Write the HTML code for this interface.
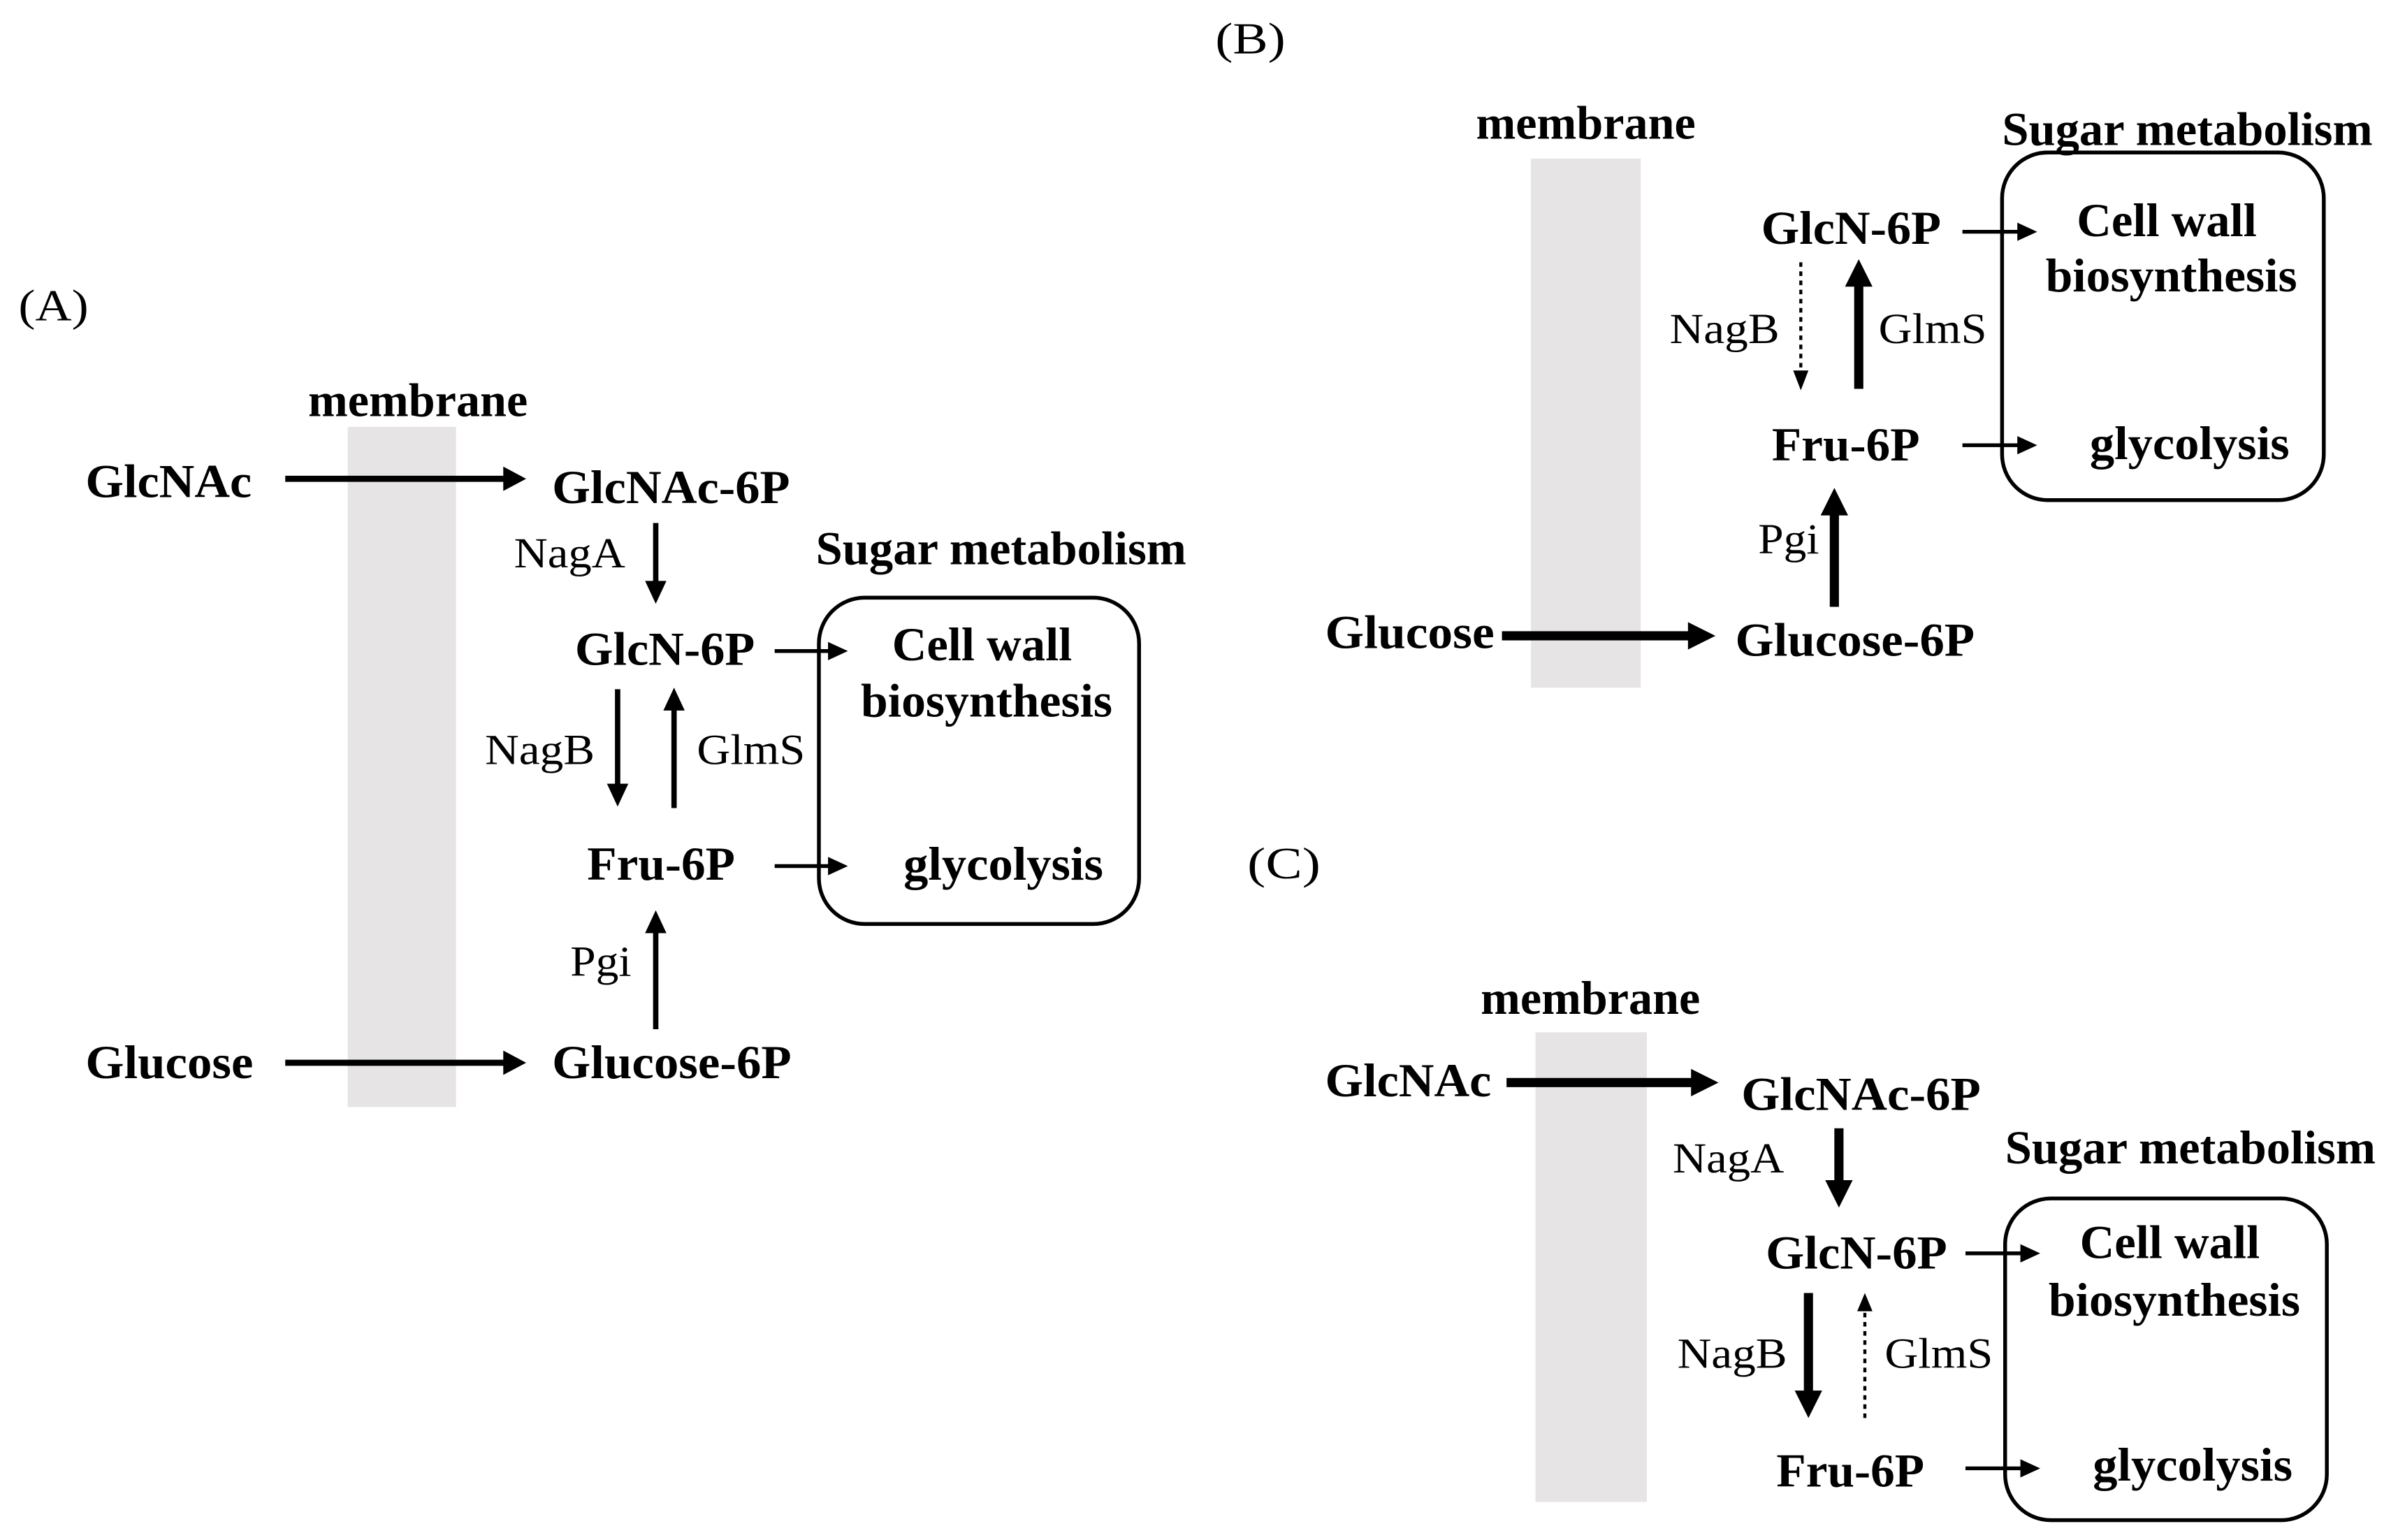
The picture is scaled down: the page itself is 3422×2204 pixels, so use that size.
<!DOCTYPE html>
<html><head><meta charset="utf-8"><style>html,body{margin:0;padding:0;background:#fff}svg{display:block}</style></head>
<body>
<svg width="3422" height="2204" viewBox="0 0 1568 1010" xmlns="http://www.w3.org/2000/svg" font-family="'Liberation Serif', serif">
<rect width="1568" height="1010" fill="#fff"/>
<rect x="228" y="280" width="71" height="446" fill="#e6e4e4"/>
<rect x="1004" y="104" width="72" height="347" fill="#e6e4e4"/>
<rect x="1007" y="677" width="73" height="308" fill="#e6e4e4"/>
<rect x="537" y="392" width="210" height="214" rx="30" fill="none" stroke="#000" stroke-width="2.5"/>
<rect x="1313" y="100" width="211" height="228" rx="30" fill="none" stroke="#000" stroke-width="2.5"/>
<rect x="1315" y="786" width="211" height="211" rx="30" fill="none" stroke="#000" stroke-width="2.5"/>

<g stroke="#000" fill="none">
<line x1="187" y1="314" x2="333" y2="314" stroke-width="4"/>
<line x1="187" y1="697" x2="333" y2="697" stroke-width="4"/>
<line x1="430" y1="343" x2="430" y2="383" stroke-width="3.5"/>
<line x1="405" y1="452" x2="405" y2="516" stroke-width="3.5"/>
<line x1="442" y1="530" x2="442" y2="464" stroke-width="3.5"/>
<line x1="430" y1="675" x2="430" y2="610" stroke-width="3.5"/>
<line x1="508" y1="427" x2="545" y2="427" stroke-width="2.5"/>
<line x1="508" y1="568" x2="545" y2="568" stroke-width="2.5"/>
<line x1="1287" y1="152" x2="1325" y2="152" stroke-width="2.5"/>
<line x1="1287" y1="292" x2="1325" y2="292" stroke-width="2.5"/>
<line x1="1181" y1="172" x2="1181" y2="243" stroke-width="2" stroke-dasharray="3,3"/>
<line x1="1219" y1="255" x2="1219" y2="186" stroke-width="6"/>
<line x1="1203" y1="398" x2="1203" y2="336" stroke-width="6"/>
<line x1="985" y1="417" x2="1109" y2="417" stroke-width="6"/>
<line x1="988" y1="710" x2="1111" y2="710" stroke-width="6"/>
<line x1="1206" y1="740" x2="1206" y2="776" stroke-width="6"/>
<line x1="1186" y1="848" x2="1186" y2="914" stroke-width="6"/>
<line x1="1223" y1="930" x2="1223" y2="860" stroke-width="2" stroke-dasharray="3,3"/>
<line x1="1289" y1="822" x2="1327" y2="822" stroke-width="2.5"/>
<line x1="1289" y1="963" x2="1327" y2="963" stroke-width="2.5"/>
</g>
<g fill="#000">
<polygon points="330,306 345,314 330,322"/>
<polygon points="330,689 345,697 330,705"/>
<polygon points="423,381 430,396 437,381"/>
<polygon points="398,514 405,529 412,514"/>
<polygon points="435,466 442,451 449,466"/>
<polygon points="423,612 430,597 437,612"/>
<polygon points="543,421 556,427 543,433"/>
<polygon points="543,562 556,568 543,574"/>
<polygon points="1323,146 1336,152 1323,158"/>
<polygon points="1323,286 1336,292 1323,298"/>
<polygon points="1176,243 1181,256 1186,243"/>
<polygon points="1210,188 1219,170 1228,188"/>
<polygon points="1194,338 1203,320 1212,338"/>
<polygon points="1107,408 1125,417 1107,426"/>
<polygon points="1109,701 1127,710 1109,719"/>
<polygon points="1197,774 1206,792 1215,774"/>
<polygon points="1177,912 1186,930 1195,912"/>
<polygon points="1218,860 1223,848 1228,860"/>
<polygon points="1325,816 1338,822 1325,828"/>
<polygon points="1325,957 1338,963 1325,969"/>
</g>

<g font-size="29" fill="#000">
<text x="12" y="210" textLength="46" lengthAdjust="spacingAndGlyphs">(A)</text>
<text x="797" y="35" textLength="46" lengthAdjust="spacingAndGlyphs">(B)</text>
<text x="818" y="576" textLength="48" lengthAdjust="spacingAndGlyphs">(C)</text>
</g>

<g font-size="31" font-weight="bold" fill="#000" text-anchor="middle">
<text x="274" y="273" textLength="144" lengthAdjust="spacingAndGlyphs">membrane</text>
<text x="110.5" y="326" textLength="109" lengthAdjust="spacingAndGlyphs">GlcNAc</text>
<text x="440" y="330" textLength="156" lengthAdjust="spacingAndGlyphs">GlcNAc-6P</text>
<text x="656.5" y="370" textLength="243" lengthAdjust="spacingAndGlyphs">Sugar metabolism</text>
<text x="436" y="436" textLength="118" lengthAdjust="spacingAndGlyphs">GlcN-6P</text>
<text x="644" y="433" textLength="118" lengthAdjust="spacingAndGlyphs">Cell wall</text>
<text x="647" y="470" textLength="165" lengthAdjust="spacingAndGlyphs">biosynthesis</text>
<text x="433.5" y="577" textLength="97" lengthAdjust="spacingAndGlyphs">Fru-6P</text>
<text x="658" y="577" textLength="131" lengthAdjust="spacingAndGlyphs">glycolysis</text>
<text x="111" y="707" textLength="110" lengthAdjust="spacingAndGlyphs">Glucose</text>
<text x="440.5" y="707" textLength="157" lengthAdjust="spacingAndGlyphs">Glucose-6P</text>
<text x="1040" y="91" textLength="144" lengthAdjust="spacingAndGlyphs">membrane</text>
<text x="1434.5" y="95" textLength="243" lengthAdjust="spacingAndGlyphs">Sugar metabolism</text>
<text x="1214" y="160" textLength="118" lengthAdjust="spacingAndGlyphs">GlcN-6P</text>
<text x="1421" y="155" textLength="118" lengthAdjust="spacingAndGlyphs">Cell wall</text>
<text x="1424" y="191" textLength="165" lengthAdjust="spacingAndGlyphs">biosynthesis</text>
<text x="1210.5" y="302" textLength="97" lengthAdjust="spacingAndGlyphs">Fru-6P</text>
<text x="1436" y="301" textLength="131" lengthAdjust="spacingAndGlyphs">glycolysis</text>
<text x="924.5" y="425" textLength="111" lengthAdjust="spacingAndGlyphs">Glucose</text>
<text x="1216.5" y="430" textLength="157" lengthAdjust="spacingAndGlyphs">Glucose-6P</text>
<text x="1043" y="665" textLength="144" lengthAdjust="spacingAndGlyphs">membrane</text>
<text x="923.5" y="719" textLength="109" lengthAdjust="spacingAndGlyphs">GlcNAc</text>
<text x="1220.5" y="728" textLength="157" lengthAdjust="spacingAndGlyphs">GlcNAc-6P</text>
<text x="1436.5" y="763" textLength="243" lengthAdjust="spacingAndGlyphs">Sugar metabolism</text>
<text x="1217.5" y="832" textLength="119" lengthAdjust="spacingAndGlyphs">GlcN-6P</text>
<text x="1423" y="825" textLength="118" lengthAdjust="spacingAndGlyphs">Cell wall</text>
<text x="1426" y="863" textLength="165" lengthAdjust="spacingAndGlyphs">biosynthesis</text>
<text x="1213.5" y="975" textLength="97" lengthAdjust="spacingAndGlyphs">Fru-6P</text>
<text x="1438" y="971" textLength="131" lengthAdjust="spacingAndGlyphs">glycolysis</text>
</g>

<g font-size="28" fill="#000">
<text x="410" y="372" text-anchor="end" textLength="73" lengthAdjust="spacingAndGlyphs">NagA</text>
<text x="390" y="501" text-anchor="end" textLength="72" lengthAdjust="spacingAndGlyphs">NagB</text>
<text x="457" y="501" textLength="71" lengthAdjust="spacingAndGlyphs">GlmS</text>
<text x="414" y="640" text-anchor="end" textLength="40" lengthAdjust="spacingAndGlyphs">Pgi</text>
<text x="1167" y="225" text-anchor="end" textLength="72" lengthAdjust="spacingAndGlyphs">NagB</text>
<text x="1232" y="225" textLength="71" lengthAdjust="spacingAndGlyphs">GlmS</text>
<text x="1193" y="363" text-anchor="end" textLength="40" lengthAdjust="spacingAndGlyphs">Pgi</text>
<text x="1170" y="769" text-anchor="end" textLength="73" lengthAdjust="spacingAndGlyphs">NagA</text>
<text x="1172" y="897" text-anchor="end" textLength="72" lengthAdjust="spacingAndGlyphs">NagB</text>
<text x="1236" y="897" textLength="71" lengthAdjust="spacingAndGlyphs">GlmS</text>
</g>
</svg>
</body></html>
